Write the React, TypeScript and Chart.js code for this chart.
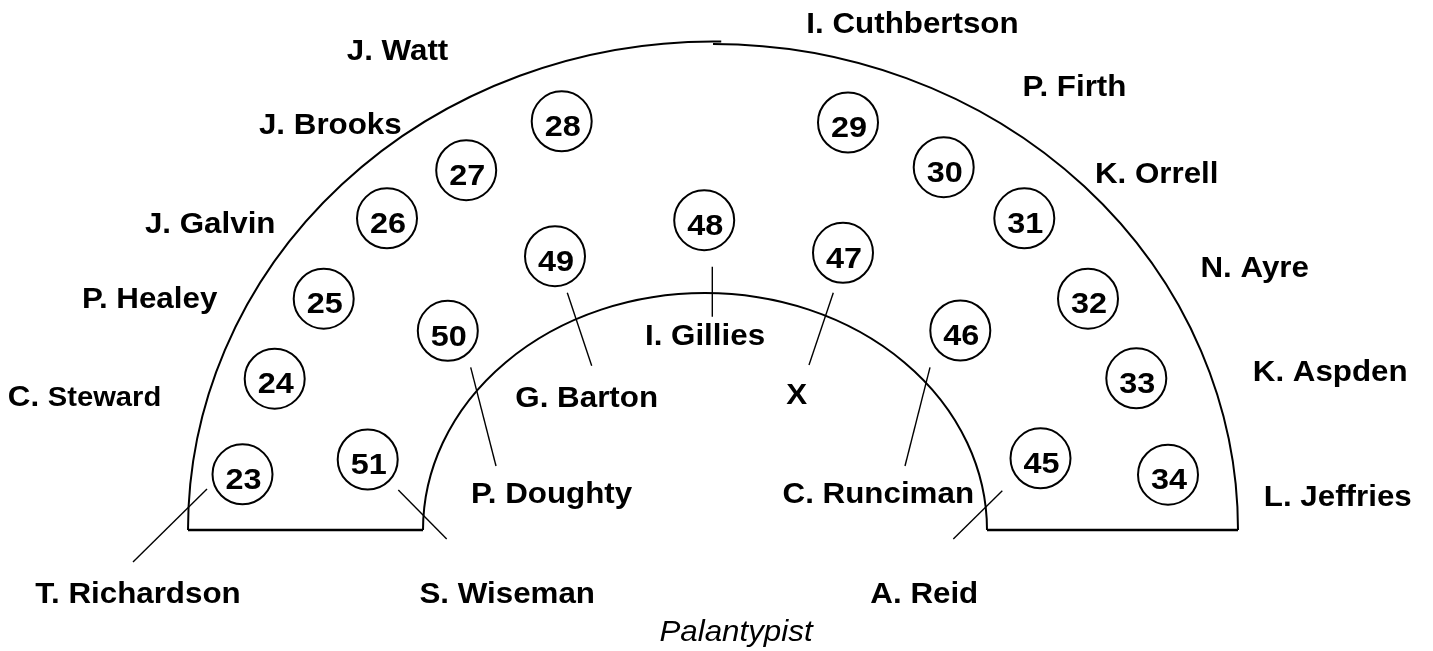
import React, { useEffect, useRef } from "react";
import { Chart, registerables } from "chart.js";

Chart.register(...registerables);

// Seats (numbered circles)
const seatNumbers = [23, 24, 25, 26, 27, 28, 29, 30, 31, 32, 33, 34, 45, 46, 47, 48, 49, 50, 51];
const seatX = [242.5, 274.7, 323.7, 387, 466.2, 561.7, 848, 943.7, 1024.3, 1088, 1136.3, 1168, 1040.5, 960.3, 843, 704.2, 555, 447.8, 367.7];
const seatY = [474.3, 378.7, 298.7, 218.3, 170.2, 121.3, 122.5, 167.2, 218.3, 298.7, 378.3, 474.7, 458.3, 330.5, 252.8, 220.2, 256.2, 330.8, 459.5];

// Name labels
const names = ["I. Cuthbertson", "J. Watt", "P. Firth", "J. Brooks", "K. Orrell", "J. Galvin", "N. Ayre", "P. Healey", "I. Gillies", "K. Aspden", "C. Steward", "G. Barton", "X", "P. Doughty", "C. Runciman", "L. Jeffries", "T. Richardson", "S. Wiseman", "A. Reid"];
const nameX = [912.5, 397.5, 1074.5, 330.3, 1156.7, 210.2, 1254.7, 149.7, 705, 1330.2, 84.5, 586.7, 796.7, 551.5, 878.3, 1337.8, 138, 507.2, 924.3];
const nameY = [23, 49.2, 85.8, 123.8, 172.8, 222.2, 266.2, 297.5, 334.5, 370.8, 395.8, 397, 393.3, 493, 493, 495.8, 592.5, 592.5, 592.5];
const nameTailSize = [0, 0, 0, 0, 0, 0, 0, 0, 0, 0, 27, 0, 0, 0, 0, 0, 0, 0, 0];

// Leader lines (from seat to name)
const leadFromX = [207, 398.3, 470.7, 567.3, 712.3, 833.3, 930, 1002.3];
const leadFromY = [489, 490, 367.3, 292.7, 266.7, 292.7, 367.3, 490.7];
const leadToX = [133, 446.7, 496, 591.7, 712.3, 809, 905, 953.3];
const leadToY = [562, 539, 466, 365.7, 316.7, 365, 466, 539];

const caption = "Palantypist";
const captionX = 736;
const captionY = 630.3;

// Chamber outline (in value units)
const outer = { cx: 713, cy: 530, rx: 525, ryLeft: 488.5, ryRight: 486 };
const inner = { cx: 705, cy: 530, rx: 282, ry: 237 };

const FONT = '"Liberation Sans", Arial, Helvetica, sans-serif';
const SX = 1.08;

function drawLabel(ctx: CanvasRenderingContext2D, text: string, x: number, yMid: number, size: number, weight: string, style: string, tail: number) {
  ctx.save();
  ctx.fillStyle = "#000";
  ctx.textBaseline = "alphabetic";
  const baseY = yMid + 0.358 * size;
  if (!tail) {
    ctx.font = `${style} ${weight} ${size}px ${FONT}`;
    ctx.textAlign = "center";
    ctx.translate(x, baseY);
    ctx.scale(SX, 1);
    ctx.fillText(text, 0, 0);
  } else {
    const i = text.indexOf(" ");
    const head = text.slice(0, i + 1);
    const rest = text.slice(i + 1);
    ctx.font = `${style} ${weight} ${size}px ${FONT}`;
    const w1 = ctx.measureText(head).width;
    ctx.font = `${style} ${weight} ${tail}px ${FONT}`;
    const w2 = ctx.measureText(rest).width;
    const total = (w1 + w2) * SX;
    ctx.translate(x - total / 2, baseY);
    ctx.scale(SX, 1);
    ctx.textAlign = "left";
    ctx.font = `${style} ${weight} ${size}px ${FONT}`;
    ctx.fillText(head, 0, 0);
    ctx.font = `${style} ${weight} ${tail}px ${FONT}`;
    ctx.fillText(rest, w1, 0);
  }
  ctx.restore();
}

const outlinePlugin = {
  id: "outline",
  beforeDatasetsDraw(chart: any) {
    const { ctx, scales } = chart;
    const xs = scales.x, ys = scales.y;
    const px = (v: number) => xs.getPixelForValue(v);
    const py = (v: number) => ys.getPixelForValue(v);
    ctx.save();
    ctx.strokeStyle = "#000";
    ctx.lineWidth = 2;
    // outer arc, two halves
    const ocx = px(outer.cx), ocy = py(outer.cy);
    const orx = px(outer.cx + outer.rx) - ocx;
    ctx.beginPath();
    ctx.ellipse(ocx, ocy, orx, Math.abs(py(outer.cy - outer.ryLeft) - ocy), 0, Math.PI, Math.PI * 1.505);
    ctx.stroke();
    ctx.beginPath();
    ctx.ellipse(ocx, ocy, orx, Math.abs(py(outer.cy - outer.ryRight) - ocy), 0, Math.PI * 1.5, Math.PI * 2);
    ctx.stroke();
    // inner arc
    const icx = px(inner.cx), icy = py(inner.cy);
    ctx.beginPath();
    ctx.ellipse(icx, icy, px(inner.cx + inner.rx) - icx, Math.abs(py(inner.cy - inner.ry) - icy), 0, Math.PI, Math.PI * 2);
    ctx.stroke();
    // base lines
    ctx.lineWidth = 2.5;
    ctx.beginPath();
    ctx.moveTo(px(outer.cx - outer.rx), ocy);
    ctx.lineTo(px(inner.cx - inner.rx), icy);
    ctx.moveTo(px(inner.cx + inner.rx), icy);
    ctx.lineTo(px(outer.cx + outer.rx), ocy);
    ctx.stroke();
    ctx.restore();
  },
  afterDatasetsDraw(chart: any) {
    const { ctx, scales } = chart;
    const xs = scales.x, ys = scales.y;
    const seatMeta = chart.getDatasetMeta(0);
    seatMeta.data.forEach((pt: any, i: number) => {
      drawLabel(ctx, String(seatNumbers[i]), pt.x + 1, pt.y + 4, 30, "bold", "normal", 0);
    });
    names.forEach((n, i) => {
      drawLabel(ctx, n, xs.getPixelForValue(nameX[i]), ys.getPixelForValue(nameY[i]), 29, "bold", "normal", nameTailSize[i]);
    });
    drawLabel(ctx, caption, xs.getPixelForValue(captionX), ys.getPixelForValue(captionY), 29, "normal", "italic", 0);
  },
};

export default function App() {
  const ref = useRef<HTMLCanvasElement>(null);
  useEffect(() => {
    if (!ref.current) return;
    const leaderSets = leadFromX.map((_, i) => ({
      type: "line" as const,
      data: [
        { x: leadFromX[i], y: leadFromY[i] },
        { x: leadToX[i], y: leadToY[i] },
      ],
      showLine: true,
      borderColor: "#000",
      borderWidth: 1.4,
      pointRadius: 0,
      fill: false,
      clip: false as any,
    }));
    const chart = new Chart(ref.current, {
      type: "scatter",
      data: {
        datasets: [
          {
            data: seatX.map((x, i) => ({ x, y: seatY[i] })),
            pointStyle: "circle",
            pointRadius: 30,
            pointHoverRadius: 30,
            borderWidth: 2,
            borderColor: "#000",
            backgroundColor: "#fff",
            clip: false as any,
          },
          ...leaderSets,
        ] as any,
      },
      options: {
        animation: false,
        responsive: false,
        layout: { padding: 0, autoPadding: false } as any,
        events: [],
        plugins: { legend: { display: false }, tooltip: { enabled: false } },
        scales: {
          x: { type: "linear", min: 0, max: 1433, display: false },
          y: { type: "linear", min: 0, max: 651, reverse: true, display: false },
        },
      },
      plugins: [outlinePlugin],
    });
    return () => chart.destroy();
  }, []);
  return (
    <div style={{ position: "absolute", left: 0, top: 0, width: 1433, height: 651, background: "#fff" }}>
      <canvas ref={ref} width={1433} height={651} style={{ display: "block" }} />
    </div>
  );
}
